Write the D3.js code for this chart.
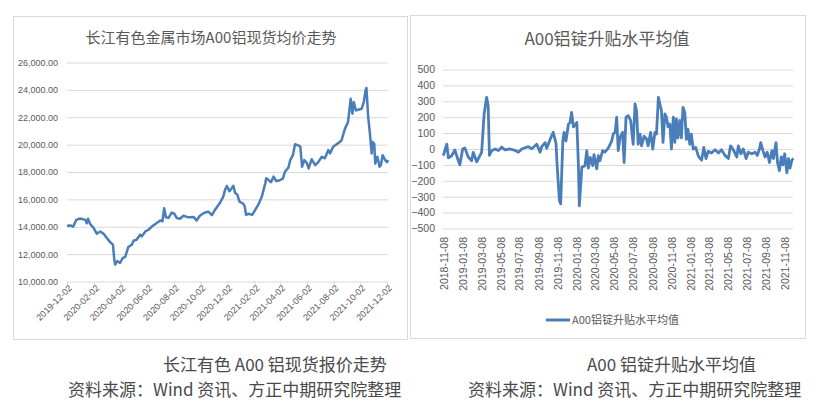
<!DOCTYPE html>
<html>
<head>
<meta charset="utf-8">
<script src="https://cdn.jsdelivr.net/npm/d3@7"></script>
<style>
  body { margin: 0; background: #fff; }
  svg { display: block; }
  text { font-family: "Liberation Sans", Arial, sans-serif; fill: #595959; }
  .cjk { font-family: "Noto Sans CJK SC", sans-serif; }
</style>
</head>
<body>
<svg id="chart" width="824" height="412"></svg>
<script>
// left chart: 长江有色金属市场A00铝现货均价 (元/吨)
var priceDates = ["2019-12-02","2019-12-10","2019-12-16","2019-12-23","2020-01-01","2020-01-13","2020-01-16","2020-01-19","2020-01-24","2020-02-01",
  "2020-02-08","2020-02-16","2020-02-23","2020-03-02","2020-03-10","2020-03-16","2020-03-19","2020-03-21","2020-03-26","2020-04-01",
  "2020-04-07","2020-04-13","2020-04-20","2020-04-28","2020-05-02","2020-05-09","2020-05-17","2020-05-21","2020-05-29","2020-06-05",
  "2020-06-13","2020-06-24","2020-07-02","2020-07-07","2020-07-11","2020-07-15","2020-07-21","2020-07-28","2020-08-03","2020-08-09",
  "2020-08-16","2020-08-24","2020-09-01","2020-09-08","2020-09-16","2020-09-23","2020-10-01","2020-10-12","2020-10-20","2020-10-28",
  "2020-11-04","2020-11-16","2020-11-23","2020-11-27","2020-12-01","2020-12-07","2020-12-13","2020-12-16","2020-12-20","2020-12-25",
  "2020-12-30","2021-01-07","2021-01-11","2021-01-14","2021-01-20","2021-01-28","2021-02-04","2021-02-12","2021-02-19","2021-02-23",
  "2021-02-27","2021-03-01","2021-03-06","2021-03-12","2021-03-18","2021-03-24","2021-03-31","2021-04-08","2021-04-13","2021-04-21",
  "2021-04-25","2021-05-01","2021-05-06","2021-05-14","2021-05-18","2021-05-22","2021-05-27","2021-06-02","2021-06-06","2021-06-13",
  "2021-06-21","2021-06-28","2021-07-06","2021-07-13","2021-07-21","2021-07-25","2021-08-01","2021-08-09","2021-08-16","2021-08-20",
  "2021-08-28","2021-09-04","2021-09-10","2021-09-14","2021-09-17","2021-09-22","2021-09-27","2021-10-05","2021-10-10","2021-10-14",
  "2021-10-16","2021-10-20","2021-10-24","2021-10-28","2021-10-30","2021-11-03","2021-11-05","2021-11-10","2021-11-15","2021-11-18",
  "2021-11-22","2021-11-28","2021-12-02","2021-12-05"];
var priceValues = [14080,14100,14000,14500,14600,14500,14250,14580,14200,13900,
  13500,13650,13500,13180,12860,12690,11600,11240,11500,11350,
  11700,11800,12520,12690,12980,13050,13420,13300,13660,13780,
  14020,14270,14460,14400,15360,14700,14650,15040,14950,14630,
  14580,14800,14720,14700,14720,14460,14820,15040,15100,14850,
  15230,15770,16200,16690,16980,16600,16850,16990,16460,16350,
  15840,15700,15480,14870,14950,14870,15230,15670,16200,16690,
  17180,17540,17430,17250,17660,17340,17380,17520,18020,18340,
  18870,19230,20030,19920,19850,18380,18870,18650,18260,18930,
  18500,18720,19110,19000,19600,19360,19840,20030,20200,20300,
  21170,21650,23350,22260,23110,22500,22550,22620,23110,23960,
  24150,22020,20810,19360,20200,20050,18620,19110,18380,18500,
  19230,18870,18720,18870];
var priceTicks = ["2019-12-02","2020-02-02","2020-04-02","2020-06-02","2020-08-02","2020-10-02","2020-12-02",
  "2021-02-02","2021-04-02","2021-06-02","2021-08-02","2021-10-02","2021-12-02"];
var priceYTicks = [10000,12000,14000,16000,18000,20000,22000,24000,26000];

// right chart: A00铝锭升贴水平均值 (元/吨)
var premDates = ["2018-11-06","2018-11-17","2018-11-22","2018-12-03","2018-12-13","2018-12-24","2018-12-29","2019-01-07","2019-01-14","2019-01-25",
  "2019-02-05","2019-02-10","2019-02-21","2019-03-04","2019-03-09","2019-03-17","2019-03-25","2019-03-30","2019-04-03","2019-04-10",
  "2019-04-21","2019-05-02","2019-05-12","2019-05-23","2019-06-08","2019-06-24","2019-07-05","2019-07-16","2019-07-26","2019-08-06",
  "2019-08-17","2019-09-02","2019-09-13","2019-09-18","2019-09-29","2019-10-04","2019-10-15","2019-10-25","2019-11-03","2019-11-07",
  "2019-11-14","2019-11-18","2019-11-25","2019-11-29","2019-12-05","2019-12-13","2019-12-18","2019-12-23","2019-12-29","2020-01-03",
  "2020-01-09","2020-01-14","2020-01-17","2020-01-25","2020-02-04","2020-02-10","2020-02-15","2020-02-21","2020-02-29","2020-03-04",
  "2020-03-13","2020-03-18","2020-03-23","2020-04-01","2020-04-08","2020-04-19","2020-04-30","2020-05-05","2020-05-11","2020-05-16",
  "2020-05-21","2020-05-27","2020-06-04","2020-06-09","2020-06-15","2020-06-22","2020-06-30","2020-07-08","2020-07-14","2020-07-19",
  "2020-07-24","2020-07-30","2020-08-04","2020-08-12","2020-08-20","2020-08-25","2020-09-02","2020-09-09","2020-09-16","2020-09-21",
  "2020-09-27","2020-10-02","2020-10-07","2020-10-12","2020-10-18","2020-10-23","2020-10-28","2020-11-03","2020-11-08","2020-11-14",
  "2020-11-19","2020-11-24","2020-11-29","2020-12-05","2020-12-10","2020-12-15","2020-12-21","2020-12-26","2020-12-31","2021-01-06",
  "2021-01-11","2021-01-17","2021-01-25","2021-02-02","2021-02-08","2021-02-13","2021-02-20","2021-02-27","2021-03-06","2021-03-17",
  "2021-03-28","2021-04-08","2021-04-18","2021-04-29","2021-05-10","2021-05-17","2021-05-26","2021-06-06","2021-06-11","2021-06-19",
  "2021-06-27","2021-07-06","2021-07-13","2021-07-24","2021-08-04","2021-08-11","2021-08-18","2021-08-22","2021-08-29","2021-09-05",
  "2021-09-12","2021-09-19","2021-09-27","2021-10-02","2021-10-10","2021-10-15","2021-10-21","2021-10-27","2021-11-01","2021-11-07",
  "2021-11-14","2021-11-19","2021-11-24","2021-11-30","2021-12-05"];
var premValues = [-42,31,-55,-42,-6,-74,-99,0,7,-50,
  -74,-21,-80,-40,-20,220,325,270,-40,-11,
  0,-10,12,-5,0,-8,-20,0,8,15,
  2,30,-20,15,40,5,60,105,35,-115,
  -325,-345,52,105,50,157,165,230,140,150,
  167,-100,-357,-115,-105,-10,-120,-53,-105,-35,
  -125,-42,-74,-10,-20,5,50,94,105,200,
  -10,75,105,-85,200,210,178,30,283,240,
  30,94,20,80,63,20,105,0,105,94,
  325,283,240,42,220,200,140,157,0,200,
  42,190,70,180,70,262,230,60,125,30,
  94,0,10,-42,-60,-70,10,-60,-15,-25,
  -5,-25,-5,-40,-60,20,-5,-50,20,-30,
  0,-60,-20,-30,-20,-40,0,40,-10,-50,
  -20,-85,-10,-60,40,-85,-136,-50,-100,-30,
  -150,-60,-120,-70,-60];
var premTicks = ["2018-11-08","2019-01-08","2019-03-08","2019-05-08","2019-07-08","2019-09-08","2019-11-08",
  "2020-01-08","2020-03-08","2020-05-08","2020-07-08","2020-09-08","2020-11-08",
  "2021-01-08","2021-03-08","2021-05-08","2021-07-08","2021-09-08","2021-11-08"];
var premYTicks = [-500,-400,-300,-200,-100,0,100,200,300,400,500];

var parseDate = d3.timeParse("%Y-%m-%d");
var lineColor = "#4a7ebb";
var gridColor = "#d9d9d9";

var svg = d3.select("#chart");

// panel frames
svg.append("rect").attr("x", 13.5).attr("y", 16.5).attr("width", 394).attr("height", 323)
  .attr("fill", "#fff").attr("stroke", "#d9d9d9");
svg.append("rect").attr("x", 410.5).attr("y", 15.5).attr("width", 395).attr("height", 323)
  .attr("fill", "#fff").attr("stroke", "#d9d9d9");

function drawPrice() {
  var x = d3.scaleTime().domain([parseDate("2019-12-02"), parseDate("2021-12-02")]).range([67, 387]);
  var y = d3.scaleLinear().domain([10000, 26000]).range([281.5, 62.5]);
  var g = svg.append("g");

  g.append("text").attr("class", "cjk").attr("x", 211).attr("y", 43)
    .attr("text-anchor", "middle").attr("font-size", 15).text("长江有色金属市场A00铝现货均价走势");

  var yAxis = d3.axisLeft(y).tickValues(priceYTicks).tickSize(-321).tickFormat(d3.format(",.2f"));
  var ya = g.append("g").attr("transform", "translate(67,0)").call(yAxis);
  ya.select(".domain").remove();
  ya.selectAll(".tick line").attr("stroke", gridColor);
  ya.selectAll(".tick text").attr("x", -9).attr("font-size", 9).attr("fill", "#595959");

  var xAxis = d3.axisBottom(x).tickValues(priceTicks.map(parseDate)).tickSize(4).tickFormat(d3.timeFormat("%Y-%m-%d"));
  var xa = g.append("g").attr("transform", "translate(0,281.5)").call(xAxis);
  xa.select(".domain").remove();
  xa.selectAll(".tick line").attr("stroke", gridColor);
  xa.selectAll(".tick text")
    .attr("font-size", 9).attr("fill", "#595959")
    .attr("text-anchor", "end").attr("dy", 0)
    .attr("transform", "translate(3,5) rotate(-45)").attr("x", 0).attr("y", 3);

  var line = d3.line()
    .x(function(d, i) { return x(parseDate(priceDates[i])); })
    .y(function(d) { return y(d); });
  g.append("path").datum(priceValues).attr("d", line)
    .attr("fill", "none").attr("stroke", lineColor).attr("stroke-width", 2.5).attr("stroke-linejoin", "round");
}

function drawPremium() {
  var x = d3.scaleTime().domain([parseDate("2018-11-08"), parseDate("2021-11-08")]).range([444, 785]);
  var y = d3.scaleLinear().domain([-500, 500]).range([228.5, 69.5]);
  var g = svg.append("g");

  g.append("text").attr("class", "cjk").attr("x", 607).attr("y", 45)
    .attr("text-anchor", "middle").attr("font-size", 17).text("A00铝锭升贴水平均值");

  var yAxis = d3.axisLeft(y).tickValues(premYTicks).tickSize(-350).tickFormat(d3.format("d"));
  var ya = g.append("g").attr("transform", "translate(443,0)").call(yAxis);
  ya.select(".domain").remove();
  ya.selectAll(".tick line").attr("stroke", gridColor);
  ya.selectAll(".tick text").attr("x", -8).attr("font-size", 10.5).attr("fill", "#595959");

  var xAxis = d3.axisBottom(x).tickValues(premTicks.map(parseDate)).tickSize(0).tickFormat(d3.timeFormat("%Y-%m-%d"));
  var xa = g.append("g").attr("transform", "translate(0,237)").call(xAxis);
  xa.select(".domain").remove();
  xa.selectAll(".tick text")
    .attr("font-size", 10.5).attr("fill", "#595959")
    .attr("text-anchor", "end").attr("y", 0).attr("x", 0).attr("dy", "0.35em")
    .attr("transform", "rotate(-90)");

  var line = d3.line()
    .x(function(d, i) { return x(parseDate(premDates[i])); })
    .y(function(d) { return y(d); });
  g.append("path").datum(premValues).attr("d", line)
    .attr("fill", "none").attr("stroke", lineColor).attr("stroke-width", 2.8).attr("stroke-linejoin", "round");

  // legend
  g.append("line").attr("x1", 546).attr("x2", 570).attr("y1", 320).attr("y2", 320)
    .attr("stroke", lineColor).attr("stroke-width", 3);
  g.append("text").attr("class", "cjk").attr("x", 572).attr("y", 324)
    .attr("font-size", 11).text("A00铝锭升贴水平均值");
}

drawPrice();
drawPremium();

// captions under the panels
var captions = [
  { x: 163, y: 371, t: "长江有色 A00 铝现货报价走势" },
  { x: 68, y: 396, t: "资料来源：Wind 资讯、方正中期研究院整理" },
  { x: 587, y: 371, t: "A00 铝锭升贴水平均值" },
  { x: 468, y: 396, t: "资料来源：Wind 资讯、方正中期研究院整理" }
];
svg.selectAll(".caption").data(captions).enter().append("text")
  .attr("class", "caption cjk")
  .attr("x", function(d) { return d.x; })
  .attr("y", function(d) { return d.y; })
  .attr("font-size", 17).attr("fill", "#4a4a4a")
  .style("fill", "#4a4a4a")
  .text(function(d) { return d.t; });
</script>
</body>
</html>
